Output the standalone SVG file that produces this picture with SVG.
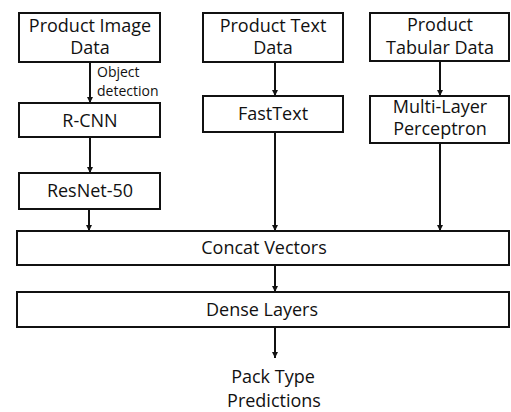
<svg xmlns="http://www.w3.org/2000/svg" width="511" height="412" viewBox="0 0 511 412">
<style>
.box{fill:#fff;stroke:#111;stroke-width:2}
.t{font-family:"Open Sans","Liberation Sans",sans-serif;font-size:18px;fill:#111;text-anchor:middle}
.s{font-family:"Open Sans","Liberation Sans",sans-serif;font-size:14px;fill:#111}
.c{stroke:#111;stroke-width:2;fill:none;marker-end:url(#ah)}
</style>
<defs>
<marker id="ah" markerWidth="8" markerHeight="8" refX="6" refY="3" orient="auto" markerUnits="userSpaceOnUse"><path d="M0,0 L6,3 L0,6 Z" fill="#111"/></marker>
</defs>
<rect width="511" height="412" fill="#fff"/>
<g id="connectors">
<line class="c" x1="90" y1="62" x2="90" y2="103"/>
<line class="c" x1="90" y1="137" x2="90" y2="173"/>
<line class="c" x1="89" y1="209" x2="89" y2="231"/>
<line class="c" x1="275" y1="62" x2="275" y2="96"/>
<line class="c" x1="275" y1="132" x2="275" y2="231"/>
<line class="c" x1="440" y1="61" x2="440" y2="96"/>
<line class="c" x1="440" y1="143" x2="440" y2="231"/>
<line class="c" x1="275" y1="265" x2="275" y2="292"/>
<line class="c" x1="275" y1="327" x2="275" y2="358"/>
<text class="s" x="97" y="77">Object</text>
<text class="s" x="97" y="96">detection</text>
</g>
<g id="image-data"><rect class="box" x="19" y="13" width="141" height="49"/><text class="t" x="90" y="32">Product Image</text><text class="t" x="90" y="54">Data</text></g>
<g id="rcnn"><rect class="box" x="19" y="103" width="141" height="34"/><text class="t" x="90" y="127">R-CNN</text></g>
<g id="resnet"><rect class="box" x="19" y="173" width="141" height="36"/><text class="t" x="90" y="197">ResNet-50</text></g>
<g id="text-data"><rect class="box" x="203" y="13" width="140" height="49"/><text class="t" x="273" y="32">Product Text</text><text class="t" x="273" y="54">Data</text></g>
<g id="fasttext"><rect class="box" x="203" y="96" width="140" height="36"/><text class="t" x="273" y="120">FastText</text></g>
<g id="tabular-data"><rect class="box" x="370" y="13" width="139" height="48"/><text class="t" x="440" y="31">Product</text><text class="t" x="440" y="54">Tabular Data</text></g>
<g id="mlp"><rect class="box" x="370" y="96" width="139" height="47"/><text class="t" x="440" y="113">Multi-Layer</text><text class="t" x="440" y="135">Perceptron</text></g>
<g id="concat"><rect class="box" x="17" y="231" width="492" height="34"/><text class="t" x="264" y="254">Concat Vectors</text></g>
<g id="dense"><rect class="box" x="17" y="292" width="492" height="35"/><text class="t" x="262" y="316">Dense Layers</text></g>
<g id="predictions"><text class="t" x="273" y="383">Pack Type</text><text class="t" x="274" y="407">Predictions</text></g>
</svg>
